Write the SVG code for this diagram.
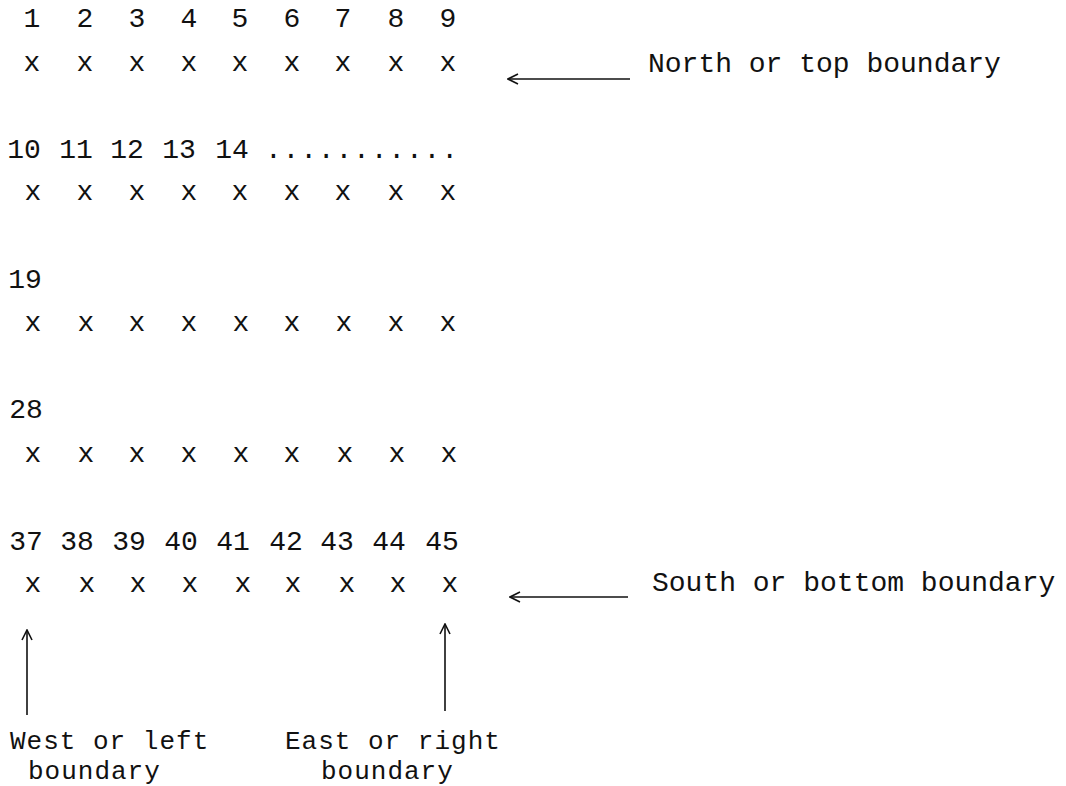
<svg xmlns="http://www.w3.org/2000/svg" width="1066" height="786" viewBox="0 0 1066 786">
<style>
text{font-family:"Liberation Mono","Courier New",monospace;font-size:28px;fill:#111}
.n,.x{text-anchor:middle}
.b{font-size:26px;letter-spacing:1px}
.ln{stroke:#111;stroke-width:1.6;fill:none}
</style>
<defs>
<marker id="ah" viewBox="0 0 12 12" refX="11" refY="6" markerWidth="12" markerHeight="12" markerUnits="userSpaceOnUse" orient="auto">
<path d="M1,1 L11,6 L1,11" fill="none" stroke="#111" stroke-width="1.6"/>
</marker>
</defs>
<rect width="1066" height="786" fill="#fff"/>
<g id="row1">
<text class="n" x="32" y="27">1</text><text class="n" x="85" y="27">2</text><text class="n" x="137" y="27">3</text><text class="n" x="189" y="27">4</text><text class="n" x="240" y="27">5</text><text class="n" x="292" y="27">6</text><text class="n" x="343" y="27">7</text><text class="n" x="396" y="27">8</text><text class="n" x="448" y="27">9</text>
<text class="x" x="32" y="71">x</text><text class="x" x="85" y="71">x</text><text class="x" x="137" y="71">x</text><text class="x" x="189" y="71">x</text><text class="x" x="240" y="71">x</text><text class="x" x="292" y="71">x</text><text class="x" x="343" y="71">x</text><text class="x" x="396" y="71">x</text><text class="x" x="448" y="71">x</text>
</g>
<g id="row2">
<text class="n" x="24" y="158">10</text><text class="n" x="76" y="158">11</text><text class="n" x="127" y="158">12</text><text class="n" x="179" y="158">13</text><text class="n" x="232" y="158">14</text>
<text x="265" y="158" textLength="193" lengthAdjust="spacing">...........</text>
<text class="x" x="33" y="200">x</text><text class="x" x="85" y="200">x</text><text class="x" x="137" y="200">x</text><text class="x" x="189" y="200">x</text><text class="x" x="240" y="200">x</text><text class="x" x="292" y="200">x</text><text class="x" x="343" y="200">x</text><text class="x" x="396" y="200">x</text><text class="x" x="448" y="200">x</text>
</g>
<g id="row3">
<text class="n" x="25" y="288">19</text>
<text class="x" x="33" y="331">x</text><text class="x" x="86" y="331">x</text><text class="x" x="137" y="331">x</text><text class="x" x="189" y="331">x</text><text class="x" x="241" y="331">x</text><text class="x" x="292" y="331">x</text><text class="x" x="344" y="331">x</text><text class="x" x="396" y="331">x</text><text class="x" x="448" y="331">x</text>
</g>
<g id="row4">
<text class="n" x="26" y="418">28</text>
<text class="x" x="33" y="462">x</text><text class="x" x="86" y="462">x</text><text class="x" x="137" y="462">x</text><text class="x" x="189" y="462">x</text><text class="x" x="241" y="462">x</text><text class="x" x="292" y="462">x</text><text class="x" x="345" y="462">x</text><text class="x" x="397" y="462">x</text><text class="x" x="449" y="462">x</text>
</g>
<g id="row5">
<text class="n" x="26" y="550">37</text><text class="n" x="77" y="550">38</text><text class="n" x="129" y="550">39</text><text class="n" x="181" y="550">40</text><text class="n" x="233" y="550">41</text><text class="n" x="286" y="550">42</text><text class="n" x="337" y="550">43</text><text class="n" x="389" y="550">44</text><text class="n" x="442" y="550">45</text>
<text class="x" x="33" y="592">x</text><text class="x" x="87" y="592">x</text><text class="x" x="138" y="592">x</text><text class="x" x="190" y="592">x</text><text class="x" x="243" y="592">x</text><text class="x" x="293" y="592">x</text><text class="x" x="347" y="592">x</text><text class="x" x="398" y="592">x</text><text class="x" x="450" y="592">x</text>
</g>
<g id="north-label"><text x="648" y="72">North or top boundary</text></g>
<g id="south-label"><text x="652" y="591">South or bottom boundary</text></g>
<g id="west-label"><text class="b" x="10" y="749">West or left</text><text class="b" x="28" y="779">boundary</text></g>
<g id="east-label"><text class="b" x="285" y="749">East or right</text><text class="b" x="321" y="779">boundary</text></g>
<g id="connectors">
<line class="ln" x1="630" y1="79" x2="508" y2="79" marker-end="url(#ah)"/>
<line class="ln" x1="628" y1="597" x2="510" y2="597" marker-end="url(#ah)"/>
<line class="ln" x1="27" y1="715" x2="27" y2="630" marker-end="url(#ah)"/>
<line class="ln" x1="445" y1="711" x2="445" y2="624" marker-end="url(#ah)"/>
</g>
</svg>
